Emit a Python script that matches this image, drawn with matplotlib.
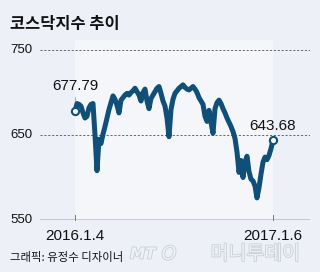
import matplotlib
matplotlib.use("Agg")
import matplotlib.pyplot as plt
import matplotlib.patheffects as pe
import numpy as np

plt.rcParams['font.family'] = ['Noto Sans CJK KR', 'DejaVu Sans']

title = "코스닥지수 추이"
credit = "그래픽: 유정수 디자이너"
wm_mt = "MT"
wm_name = "머니투데이"
start_label = "2016.1.4"
end_label = "2017.1.6"
yticks = [550, 650, 750]

values = [677.79, 687, 686, 684, 676, 670, 672, 682, 686, 687,
          650, 608, 645, 640, 651, 660, 670, 680, 688, 696,
          692, 685, 676, 691, 694, 697, 699, 697, 700, 702,
          705, 701, 697, 690, 700, 704, 690, 681, 693, 697,
          701, 705, 707, 699, 690, 684, 670, 648, 680, 692,
          699, 702, 705, 707, 709, 706, 704, 703, 705, 707,
          704, 700, 694, 690, 686, 672, 666, 679, 665, 652,
          681, 688, 691, 687, 681, 676, 670, 665, 660, 654,
          646, 630, 606, 620, 600, 618, 625, 607, 598, 596,
          590, 576, 588, 604, 618, 624, 621, 626, 634, 643.68]

bg = "#edf1f7"
band = "#f4f6fa"
line_color = "#0f4f78"
num_font = "Liberation Sans"

fig = plt.figure(figsize=(3.2, 2.72), dpi=100, facecolor=bg)
ax = fig.add_axes([40/320, (272-220)/272, 270/320, 170/272])
ax.set_facecolor("none")
ax.set_zorder(2)

n = len(values)
x = np.arange(n)
x0_px, x1_px = 75, 273
s = (x1_px - x0_px) / (n - 1)
xmin = -(x0_px - 40) / s
xmax = xmin + 270 / s
ax.set_xlim(xmin, xmax)
ax.set_ylim(550, 750)

# faint lighter band over the date range
fig.patches.append(plt.Rectangle((x0_px/320, (272-220)/272), (x1_px - x0_px)/320,
                                 (220-40)/272, transform=fig.transFigure,
                                 color=band, lw=0, zorder=-5))

for yv in [650, 750]:
    ax.axhline(yv, color="#666666", lw=0.7, ls=(0, (2.2, 1.8)), zorder=1)
ax.axhline(550, color="#222222", lw=1.0, zorder=3)

# leader line from start label to point
ax.plot([0, 0], [values[0] + 5, values[0] + 17], color="#aaaaaa", lw=0.7, zorder=2)

ax.plot(x, values, color=line_color, lw=3.6, solid_joinstyle="round",
        solid_capstyle="round", zorder=4)
ax.plot([0, n - 1], [values[0], values[-1]], 'o', ms=5.2, mfc="white",
        mec=line_color, mew=1.5, zorder=5)

for spine in ax.spines.values():
    spine.set_visible(False)
ax.set_xticks([])
ax.set_yticks([])

for xi in [0, n - 1]:
    ax.plot([xi, xi], [550, 556], color="#777777", lw=0.7, zorder=3, clip_on=False)

for yv in yticks:
    fig.text(10/320, 1 - (50 + (750 - yv) * 0.85)/272, str(yv), ha="left", va="center",
             fontsize=9.5, color="#111111", family=num_font)

fig.text(x0_px/320, 1 - 236/272, start_label, ha="center", va="center", fontsize=11,
         color="#111111", family=num_font)
fig.text(x1_px/320, 1 - 236/272, end_label, ha="center", va="center", fontsize=11,
         color="#111111", family=num_font)

fig.text(x0_px/320, 1 - 86/272, f"{values[0]:.2f}", ha="center", va="center",
         fontsize=11, color="#111111", family=num_font)
fig.text(272.5/320, 1 - 126/272, f"{values[-1]:.2f}", ha="center", va="center",
         fontsize=11, color="#111111", family=num_font)

fig.text(10/320, 1 - 24/272, title, ha="left", va="center", fontsize=11.8,
         fontweight="bold", color="#111111")
fig.text(10/320, 1 - 258/272, credit, ha="left", va="center", fontsize=8.2,
         color="#111111")

outline = [pe.withStroke(linewidth=1.2, foreground="#c9ced6")]
fig.text(130/320, 1 - 254/272, wm_mt, ha="left", va="center", fontsize=11,
         color=bg, fontweight="bold", style="italic", family="DejaVu Sans",
         path_effects=outline, zorder=-1)
fig.text(169/320, 1 - 254/272, "O", ha="center", va="center", fontsize=13.5,
         color=bg, style="italic", family="DejaVu Sans", path_effects=outline,
         zorder=-1)
fig.text(300/320, 1 - 254/272, wm_name, ha="right", va="center", fontsize=14,
         color=bg, path_effects=outline, zorder=-1)

fig.savefig("out.png", dpi=100, facecolor=bg)
